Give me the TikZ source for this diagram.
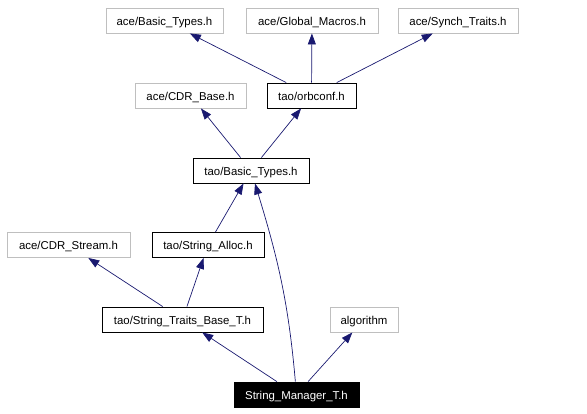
\documentclass[tikz,border=0pt]{standalone}
\usepackage{fontspec}
\setmainfont{Liberation Sans}
\usetikzlibrary{arrows.meta}
\definecolor{edgeblue}{RGB}{25,25,112}
\definecolor{greyline}{RGB}{191,191,191}

\begin{document}
\begin{tikzpicture}[
    x=1pt, y=-1pt,
    file/.style={rectangle, draw=black, line width=0.9pt, inner sep=0pt,
                 minimum height=25pt, text height=10pt, text depth=1pt,
                 font=\fontsize{11.4}{13}\selectfont},
    extfile/.style={file, draw=greyline},
    mainfile/.style={file, fill=black, text=white},
    arr/.style={{Triangle[length=11pt, width=8pt]}-, edgeblue, line width=0.7pt}
]
\useasboundingbox (0,0) rectangle (587,413);

% Row 1: system headers
\node[extfile, minimum width=117pt] (abasic) at (164.5,20.5) {ace/Basic\_Types.h};
\node[extfile, minimum width=132pt] (amacros) at (312,20.5) {ace/Global\_Macros.h};
\node[extfile, minimum width=120pt] (asynch) at (458,20.5) {ace/Synch\_Traits.h};

% Row 2
\node[extfile, minimum width=111pt] (acdrbase) at (190.5,95.5) {ace/CDR\_Base.h};
\node[file, minimum width=89pt] (orbconf) at (311.5,95.5) {tao/orbconf.h};

% Row 3
\node[file, minimum width=116pt] (tbasic) at (251,170.5) {tao/Basic\_Types.h};

% Row 4
\node[extfile, minimum width=123pt] (acdrstream) at (68.5,245) {ace/CDR\_Stream.h};
\node[file, minimum width=112pt] (salloc) at (208,245) {tao/String\_Alloc.h};

% Row 5
\node[file, minimum width=161pt] (straits) at (182.5,319.5) {tao/String\_Traits\_Base\_T.h};
\node[extfile, minimum width=68pt] (algo) at (364,319.5) {algorithm};

% Row 6: this file
\node[mainfile, minimum width=125pt] (smgr) at (296.5,394.5) {String\_Manager\_T.h};

% Arrows
\draw[arr] (abasic) -- (orbconf);
\draw[arr] (amacros) -- (orbconf);
\draw[arr] (asynch) -- (orbconf);
\draw[arr] (acdrbase) -- (tbasic);
\draw[arr] (orbconf) -- (tbasic);
\draw[arr] (tbasic) -- (salloc);
\draw[arr] (tbasic) to[out=-73, in=95] (smgr);
\draw[arr] (acdrstream) -- (straits);
\draw[arr] (salloc) -- (straits);
\draw[arr] (straits) -- (smgr);
\draw[arr] (algo) -- (smgr);
\end{tikzpicture}
\end{document}
